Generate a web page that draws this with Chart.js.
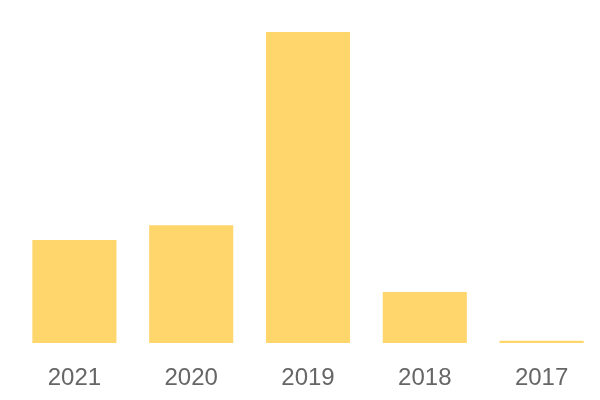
<!DOCTYPE html>
<html>
<head>
<meta charset="utf-8">
<script src="https://cdn.jsdelivr.net/npm/chart.js@4"></script>
<style>
  html, body { margin: 0; padding: 0; background: #fff; }
  #wrap { width: 600px; height: 400px; }
</style>
</head>
<body>
<div id="wrap"><canvas id="myChart"></canvas></div>
<script>
// annees + valeurs
const years = ['2021', '2020', '2019', '2018', '2017'];
const values = [33.1, 37.9, 100, 16.4, 0.75];

const data = {
    labels: years,
    datasets: [{
      data: values,
      backgroundColor: 'rgb(255, 214, 107)',
      borderWidth: 0
    }]
};

const config = {
    type: 'bar',
    data: data,
    options: {
      responsive: true,
      maintainAspectRatio: false,
      animation: false,
      layout: { padding: { top: 32, left: 16, right: 0, bottom: 0 } },
      plugins: { legend: { display: false }, tooltip: { enabled: false } },
      scales: {
        x: {
          grid: { display: false, drawTicks: false },
          border: { display: false },
          ticks: { color: '#666', font: { family: '"Liberation Sans", Arial', size: 24 }, padding: 21 },
          // hauteur fixe de l'axe pour caler la base a 343px
          afterFit: function(scale) { scale.height = 57; }
        },
        y: {
          display: false,
          min: 0,
          max: 100
        }
      }
    }
};

const myChart = new Chart(document.getElementById('myChart'), config);
</script>
</body>
</html>
